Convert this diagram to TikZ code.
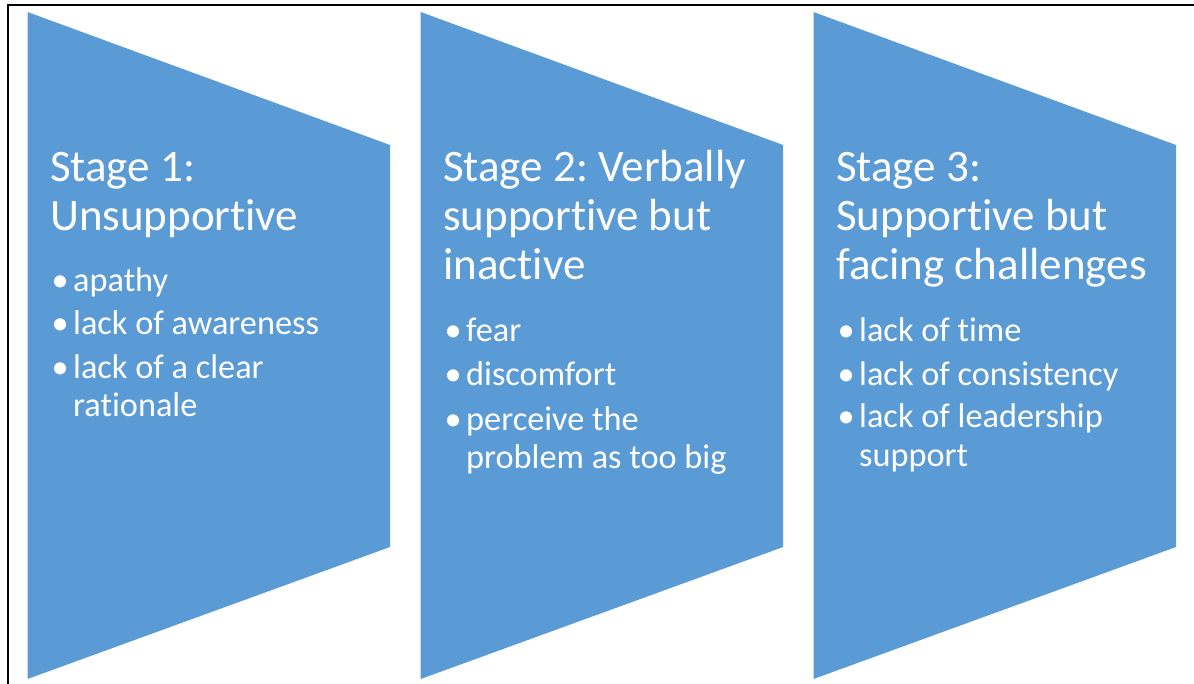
\documentclass[tikz,border=0pt]{standalone}
\usepackage{fontspec}
\setmainfont[Ligatures=NoCommon]{Carlito}
\definecolor{stageblue}{HTML}{5B9BD5}
\frenchspacing
\begin{document}
\begin{tikzpicture}[x=1pt,y=-1pt,
  stagebox/.style={fill=stageblue,draw=none},
  stagetitle/.style={anchor=base west,inner sep=0pt,text=white,font=\fontsize{45}{49}\selectfont},
  bulletdot/.style={anchor=base west,inner sep=0pt,text=white,font=\fontsize{34.3}{38}\selectfont},
  bulletitem/.style={anchor=base west,inner sep=0pt,text=white,font=\fontsize{34.3}{38}\selectfont},
  frameline/.style={line width=2pt,draw=black}]
\useasboundingbox (0,0) rectangle (1194,684);
% frame
\coordinate (fbl) at (7.5,684);
\coordinate (ftl) at (7.5,5.5);
\coordinate (ftr) at (1194,5.5);
\draw[frameline] (fbl) -- (ftl) -- (ftr);
% shapes
\foreach \i/\x in {1/27.5,2/420.7,3/813.5}{
  \fill[stagebox] (\x,12) -- (\x+362.5,145) -- (\x+362.5,547) -- (\x,679) -- cycle;
}
% stage 1
\node[stagetitle] (s1a) at (50,182) {Stage 1:};
\node[stagetitle] (s1b) at (50,231) {Unsupportive};
\node[bulletdot] (s1d1) at (51.5,292) {•};
\node[bulletitem] (s1i1) at (73,292) {apathy};
\node[bulletdot] (s1d2) at (51.5,335) {•};
\node[bulletitem] (s1i2) at (73,335) {lack of awareness};
\node[bulletdot] (s1d3) at (51.5,379) {•};
\node[bulletitem] (s1i3) at (73,379) {lack of a clear};
\node[bulletitem] (s1i3b) at (73,417) {rationale};
% stage 2
\node[stagetitle] (s2a) at (443,182) {Stage 2: Verbally};
\node[stagetitle] (s2b) at (443,231) {supportive but};
\node[stagetitle] (s2c) at (443,280) {inactive};
\node[bulletdot] (s2d1) at (444.5,342) {•};
\node[bulletitem] (s2i1) at (466,342) {fear};
\node[bulletdot] (s2d2) at (444.5,386) {•};
\node[bulletitem] (s2i2) at (466,386) {discomfort};
\node[bulletdot] (s2d3) at (444.5,430) {•};
\node[bulletitem] (s2i3) at (466,430) {perceive the};
\node[bulletitem] (s2i3b) at (466,468) {problem as too big};
% stage 3
\node[stagetitle] (s3a) at (836,182) {Stage 3:};
\node[stagetitle] (s3b) at (836,231) {Supportive but};
\node[stagetitle] (s3c) at (836,280) {facing challenges};
\node[bulletdot] (s3d1) at (837.5,342) {•};
\node[bulletitem] (s3i1) at (859,342) {lack of time};
\node[bulletdot] (s3d2) at (837.5,385) {•};
\node[bulletitem] (s3i2) at (859,385) {lack of consistency};
\node[bulletdot] (s3d3) at (837.5,428) {•};
\node[bulletitem] (s3i3) at (859,428) {lack of leadership};
\node[bulletitem] (s3i3b) at (859,466) {support};
\end{tikzpicture}
\end{document}
